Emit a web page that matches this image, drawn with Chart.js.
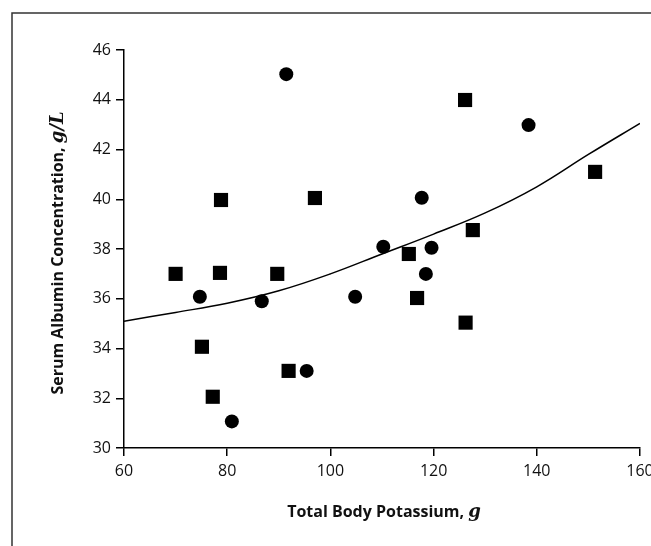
<!DOCTYPE html>
<html>
<head>
<meta charset="utf-8">
<script src="https://cdn.jsdelivr.net/npm/chart.js@4/dist/chart.umd.min.js"></script>
<style>
html,body{margin:0;padding:0;background:#fff;overflow:hidden;}
#wrap{position:absolute;left:0;top:0;width:680px;height:546px;}
</style>
</head>
<body>
<div id="wrap"><canvas id="c" width="680" height="546"></canvas></div>
<script>
// Data
const squareX = [70, 75.1, 77.2, 78.8, 78.6, 89.7, 91.9, 97, 115.2, 116.8, 126.1, 126.2, 127.6, 151.3];
const squareY = [37, 34.07, 32.06, 39.97, 37.04, 37, 33.1, 40.05, 37.8, 36.03, 43.99, 35.04, 38.76, 41.1];
const circleX = [74.7, 80.9, 86.7, 91.45, 95.4, 104.8, 110.25, 117.7, 118.5, 119.6, 138.4];
const circleY = [36.08, 31.07, 35.9, 45.03, 33.1, 36.08, 38.09, 40.06, 37.0, 38.05, 42.98];
const fitX = [60, 70, 80, 90, 100, 110, 120, 130, 140, 150, 160];
const fitY = [35.1, 35.45, 35.82, 36.32, 37.0, 37.8, 38.6, 39.45, 40.5, 41.8, 43.05];
const xTicks = [60, 80, 100, 120, 140, 160];
const yTicks = [30, 32, 34, 36, 38, 40, 42, 44, 46];
const xTitle = ['Total Body Potassium, ', 'g'];
const yTitle = ['Serum Albumin Concentration, ', 'g/L'];

const pts = (xs, ys) => xs.map((x, i) => ({x, y: ys[i]}));

const sansBold = 'bold 16px "Open Sans"';
const serifItal = 'italic bold 18px "DejaVu Serif"';

function drawParts(ctx, parts, cx, cy) {
  const fonts = [sansBold, serifItal];
  let total = 0;
  const widths = parts.map((p, i) => { ctx.font = fonts[i]; const w = ctx.measureText(p).width; total += w; return w; });
  let x = cx - total / 2;
  ctx.textBaseline = 'alphabetic';
  ctx.textAlign = 'left';
  parts.forEach((p, i) => { ctx.font = fonts[i]; ctx.fillText(p, x, cy); x += widths[i]; });
}

const decor = {
  id: 'decor',
  afterDraw(chart) {
    const ctx = chart.ctx;
    const a = chart.chartArea;
    ctx.save();
    // frame
    ctx.strokeStyle = '#333';
    ctx.lineWidth = 1.5;
    ctx.beginPath();
    ctx.moveTo(12, 546);
    ctx.lineTo(12, 13);
    ctx.lineTo(chart.width, 13);
    ctx.stroke();
    // titles
    ctx.fillStyle = '#111';
    drawParts(ctx, xTitle, (a.left + a.right) / 2 + 2, 517);
    ctx.translate(63, (a.top + a.bottom) / 2 + 4);
    ctx.rotate(-Math.PI / 2);
    drawParts(ctx, yTitle, 0, 0);
    ctx.restore();
  }
};

new Chart(document.getElementById('c'), {
  type: 'scatter',
  data: {
    datasets: [
      {
        label: 'squares',
        data: pts(squareX, squareY),
        pointStyle: 'rect',
        pointRadius: 10,
        backgroundColor: '#000',
        borderColor: '#000',
        borderWidth: 0,
        order: 1
      },
      {
        label: 'circles',
        data: pts(circleX, circleY),
        pointStyle: 'circle',
        pointRadius: 7,
        backgroundColor: '#000',
        borderColor: '#000',
        borderWidth: 0,
        order: 1
      },
      {
        label: 'fit',
        type: 'line',
        data: pts(fitX, fitY),
        showLine: true,
        pointRadius: 0,
        borderColor: '#000',
        borderWidth: 1.5,
        tension: 0.4,
        fill: false,
        order: 2
      }
    ]
  },
  options: {
    responsive: false,
    animation: false,
    devicePixelRatio: 1,
    layout: { padding: { left: 0, top: 50, right: 40, bottom: 0 } },
    plugins: { legend: { display: false }, tooltip: { enabled: false } },
    scales: {
      x: {
        type: 'linear',
        min: 60, max: 160,
        afterBuildTicks: s => { s.ticks = xTicks.map(v => ({value: v})); },
        afterFit: s => { s.height = 98; },
        grid: { drawOnChartArea: false, drawTicks: true, tickLength: 8, color: '#000', lineWidth: 1.5 },
        border: { display: true, color: '#000', width: 1.5 },
        ticks: { color: '#111', font: { family: 'Open Sans', size: 16 }, padding: 6, maxRotation: 0 }
      },
      y: {
        type: 'linear',
        min: 30, max: 46,
        afterBuildTicks: s => { s.ticks = yTicks.map(v => ({value: v})); },
        afterFit: s => { s.width = 124; },
        grid: { drawOnChartArea: false, drawTicks: true, tickLength: 8, color: '#000', lineWidth: 1.5 },
        border: { display: true, color: '#000', width: 1.5 },
        ticks: { color: '#111', font: { family: 'Open Sans', size: 16 }, padding: 5 }
      }
    }
  },
  plugins: [decor]
});
</script>
</body>
</html>
